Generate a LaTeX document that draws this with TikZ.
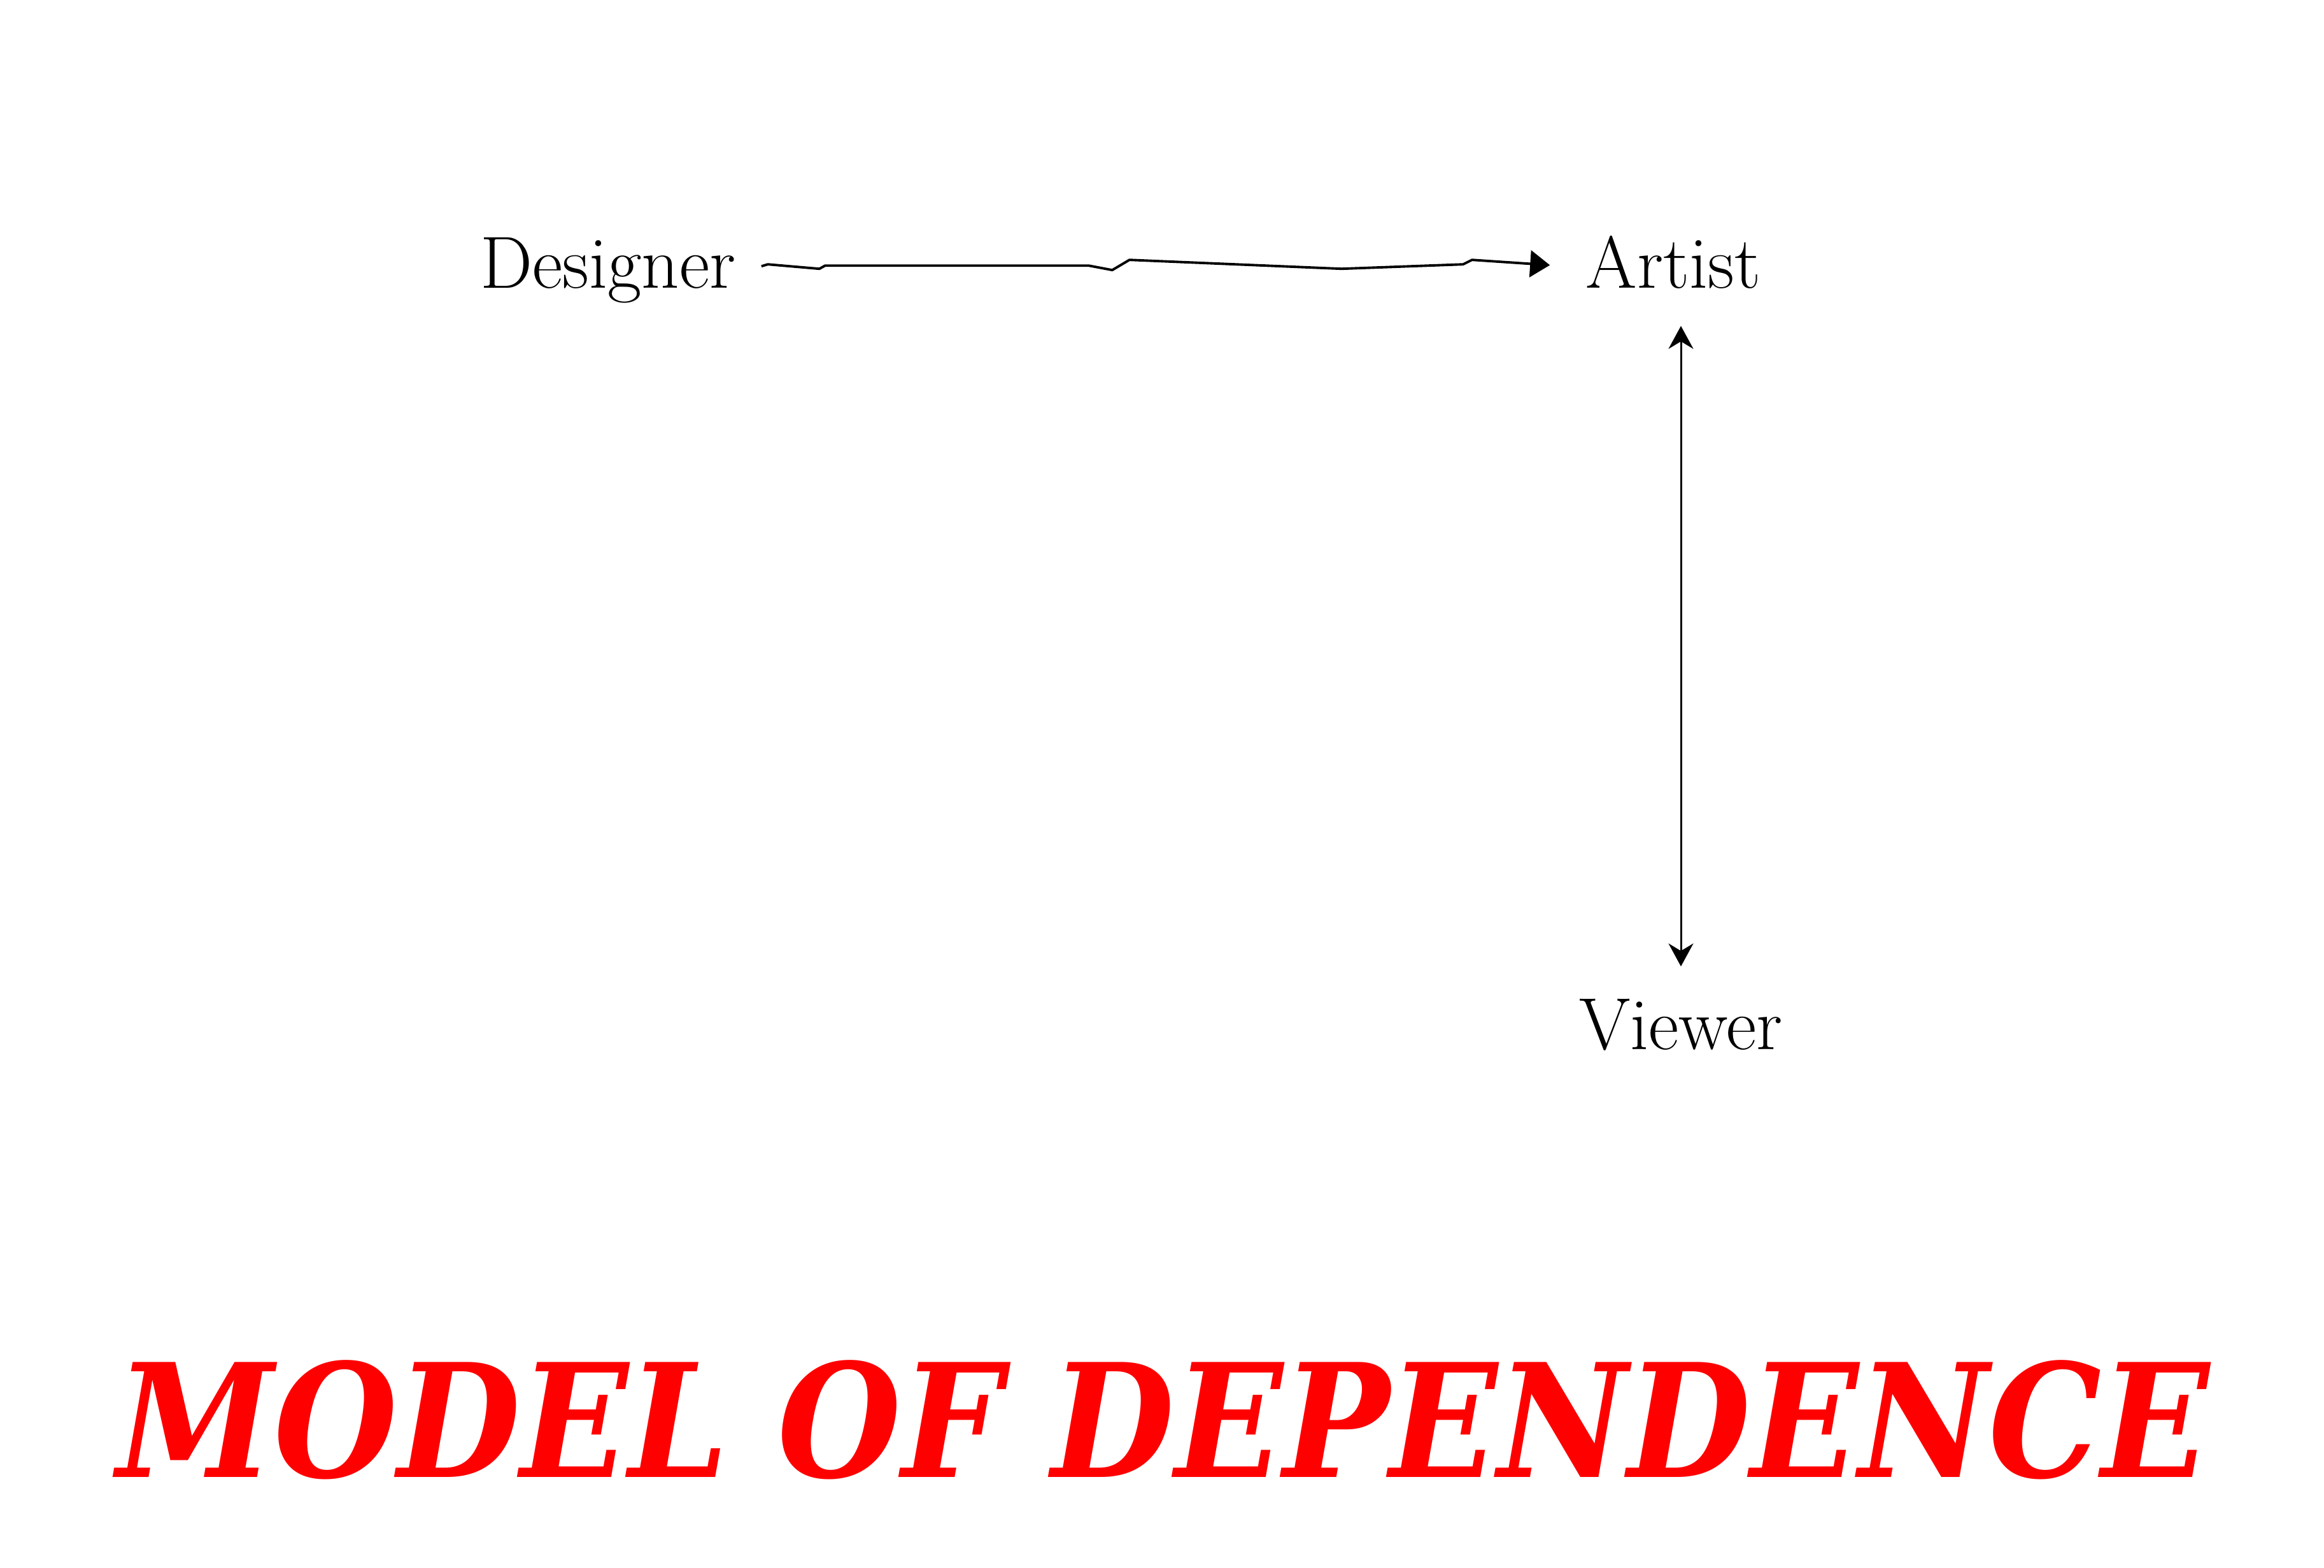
\documentclass[tikz,border=0pt]{standalone}
\usepackage{fontspec}
\newfontfamily\titlefont{DejaVu Serif Condensed}
\usetikzlibrary{arrows.meta}
\definecolor{titlered}{RGB}{255,0,0}
\begin{document}
\begin{tikzpicture}[
    role/.style={anchor=base,inner sep=0pt,font=\fontsize{33}{39}\selectfont},
    headline/.style={anchor=base,inner sep=0pt,text=titlered,
      font=\titlefont\bfseries\itshape\fontsize{70.5}{84}\selectfont},
    sketchy/.style={line width=1.1pt,line join=round,-{Triangle[length=0.31cm,width=0.42cm]}},
    mutual/.style={line width=0.85pt,{Stealth[length=0.36cm,width=0.39cm]}-{Stealth[length=0.36cm,width=0.39cm]}}
  ]
  \useasboundingbox (0,0) rectangle (36.5,-24.63);
  \draw
    (9.55,-4.53) node[role] (designer){Designer}
    (26.28,-4.53) node[role] (artist){Artist}
    (26.40,-16.48) node[role] (viewer){Viewer}
    (18.27,-23.20) node[headline] (title){MODEL OF DEPENDENCE};
  \begin{scope}[-]
    \draw[sketchy] ([xshift=0.40cm,yshift=0.07cm]designer.east)
      -- ++(0.10,0.03) -- ++(0.81,-0.07) -- ++(0.09,0.05) -- ++(4.14,0)
      -- ++(0.37,-0.07) -- ++(0.27,0.16) -- ++(3.33,-0.14) -- ++(1.91,0.07)
      -- ++(0.14,0.07) -- ([xshift=-0.56cm,yshift=-0.04cm]artist.west);
    \draw[mutual] ([yshift=-0.59cm]artist.base -| viewer.base) -- ([yshift=1.30cm]viewer.base);
  \end{scope}
\end{tikzpicture}
\end{document}
